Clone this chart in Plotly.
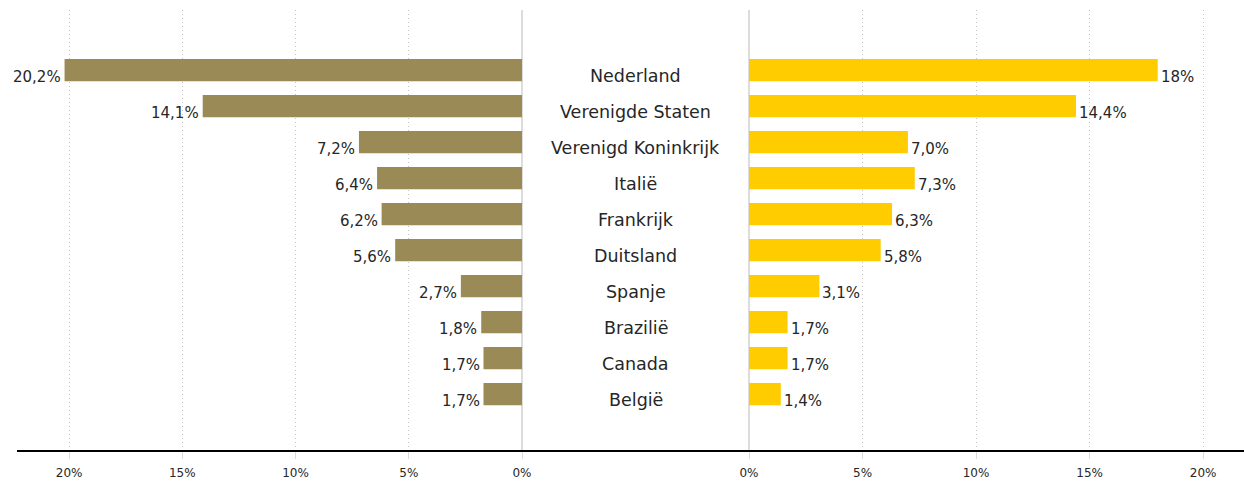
import plotly.graph_objects as go

countries = ["Nederland", "Verenigde Staten", "Verenigd Koninkrijk", "Italië", "Frankrijk",
             "Duitsland", "Spanje", "Brazilië", "Canada", "België"]
left_values = [20.2, 14.1, 7.2, 6.4, 6.2, 5.6, 2.7, 1.8, 1.7, 1.7]
left_labels = ["20,2%", "14,1%", "7,2%", "6,4%", "6,2%", "5,6%", "2,7%", "1,8%", "1,7%", "1,7%"]
right_values = [18.0, 14.4, 7.0, 7.3, 6.3, 5.8, 3.1, 1.7, 1.7, 1.4]
right_labels = ["18%", "14,4%", "7,0%", "7,3%", "6,3%", "5,8%", "3,1%", "1,7%", "1,7%", "1,4%"]
tick_vals = [0, 5, 10, 15, 20]
tick_text = ["0%", "5%", "10%", "15%", "20%"]

W, H = 1244, 483
FONT = "DejaVu Sans"
LEFT_COLOR = "#9A8A56"
RIGHT_COLOR = "#FFCC00"
TEXT_COLOR = "#262626"

fig = go.Figure()
fig.add_trace(go.Bar(y=countries, x=left_values, orientation="h", xaxis="x", yaxis="y",
                     marker=dict(color=LEFT_COLOR, line=dict(width=0)), width=0.62,
                     hoverinfo="skip", showlegend=False))
fig.add_trace(go.Bar(y=countries, x=right_values, orientation="h", xaxis="x2", yaxis="y",
                     marker=dict(color=RIGHT_COLOR, line=dict(width=0)), width=0.62,
                     hoverinfo="skip", showlegend=False))

annotations = []
for c, v, t in zip(countries, left_values, left_labels):
    annotations.append(dict(x=v, y=c, xref="x", yref="y", text=t, showarrow=False,
                            xanchor="right", yanchor="middle", xshift=-2, yshift=-7,
                            font=dict(family=FONT, size=15, color=TEXT_COLOR)))
for c, v, t in zip(countries, right_values, right_labels):
    annotations.append(dict(x=v, y=c, xref="x2", yref="y", text=t, showarrow=False,
                            xanchor="left", yanchor="middle", xshift=1, yshift=-7,
                            font=dict(family=FONT, size=15, color=TEXT_COLOR)))
for c in countries:
    annotations.append(dict(x=635.5 / W, y=c, xref="paper", yref="y", text=c, showarrow=False,
                            xanchor="center", yanchor="middle", yshift=-6,
                            font=dict(family=FONT, size=17.5, color=TEXT_COLOR)))

axis_common = dict(
    showgrid=True, gridcolor="#c4c4c4", griddash="1px,3px", gridwidth=1,
    zeroline=True, zerolinecolor="#dcdcdc", zerolinewidth=2,
    tickmode="array", tickvals=tick_vals, ticktext=tick_text,
    ticks="outside", ticklen=7, tickcolor="#dcdcdc", tickwidth=1,
    ticklabelstandoff=4,
    tickfont=dict(family=FONT, size=12, color=TEXT_COLOR),
    showline=False, fixedrange=True, automargin=False,
)

fig.update_layout(
    width=W, height=H,
    margin=dict(l=0, r=0, t=10, b=32, autoexpand=False),
    paper_bgcolor="white", plot_bgcolor="white",
    barmode="overlay",
    xaxis=dict(domain=[17 / W, 522 / W], range=[22.3, 0], anchor="y", **axis_common),
    xaxis2=dict(domain=[749 / W, 1.0], range=[0, 21.8], anchor="y", **axis_common),
    yaxis=dict(type="category", categoryarray=countries, range=[10.58, -1.67], automargin=False,
               showticklabels=False, showgrid=False, zeroline=False, ticks="", fixedrange=True),
    annotations=annotations,
    shapes=[dict(type="line", xref="paper", yref="paper", x0=17 / W, x1=1.0, y0=0, y1=0,
                 line=dict(color="black", width=2))],
    font=dict(family=FONT),
    showlegend=False,
)

fig.write_html(
    "out.html",
    config={"displayModeBar": False, "staticPlot": True},
    post_script="document.body.style.margin='0px';document.body.style.padding='0px';"
                "document.documentElement.style.overflow='hidden';",
)
